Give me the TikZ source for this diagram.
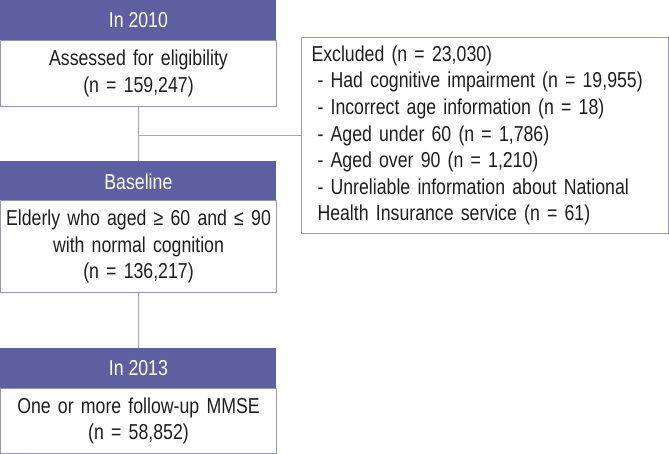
\documentclass[tikz,border=0pt]{standalone}
\usepackage{fontspec}
\setmainfont[FakeStretch=0.82]{Liberation Sans}
\usepackage{tikz}
\definecolor{hdrblue}{RGB}{94,95,160}
\definecolor{boxline}{RGB}{150,150,190}
\definecolor{linkgray}{RGB}{170,170,180}
\definecolor{ink}{RGB}{30,30,30}

\begin{document}
\begin{tikzpicture}[x=1pt,y=-1pt,
    every node/.style={font=\fontsize{10.8}{13.3}\selectfont, inner sep=0pt, anchor=north west},
    hdr/.style={fill=hdrblue, text=white, minimum width=138pt, minimum height=20pt},
    body/.style={draw=boxline, line width=0.5pt, text=ink, align=center,
                 minimum width=138pt, text width=136pt},
    excl/.style={draw=boxline, line width=0.5pt, text=ink, align=left,
                 minimum width=183.5pt, minimum height=98pt, text width=173.5pt, inner xsep=5pt},
    link/.style={draw=linkgray, line width=0.6pt}]
        \useasboundingbox (0,0) rectangle (334.5,227);
        % left column: header bar, then white box
        \node[hdr] (y2010) at (0,0) {In 2010};
        \node[body, minimum height=33pt] (assess) at (0,20) {Assessed for eligibility\\(n = 159,247)};
        \node[hdr] (base) at (0,80.5) {Baseline};
        \node[body, minimum height=46pt] (elder) at (0,100) {Elderly who aged ≥ 60 and ≤ 90\\with normal cognition\\(n = 136,217)};
        \node[hdr] (y2013) at (0,174) {In 2013};
        \node[body, minimum height=32.5pt] (mmse) at (0,194) {One or more follow-up MMSE\\(n = 58,852)};
        % exclusions on the right
        \node[excl] (excl) at (150.5,18.5) {Excluded (n = 23,030)\\
            \hspace{3pt}- Had cognitive impairment (n = 19,955)\\
            \hspace{3pt}- Incorrect age information (n = 18)\\
            \hspace{3pt}- Aged under 60 (n = 1,786)\\
            \hspace{3pt}- Aged over 90 (n = 1,210)\\
            \hspace{3pt}- Unreliable information about National\\
            \hspace{3pt}Health Insurance service (n = 61)};
        % connectors
        \draw[link] (assess.south) -- (base.north);
        \draw[link] (assess.south |- excl.west) -- (excl.west);
        \draw[link] (elder.south) -- (y2013.north);
      \end{tikzpicture}
\end{document}
